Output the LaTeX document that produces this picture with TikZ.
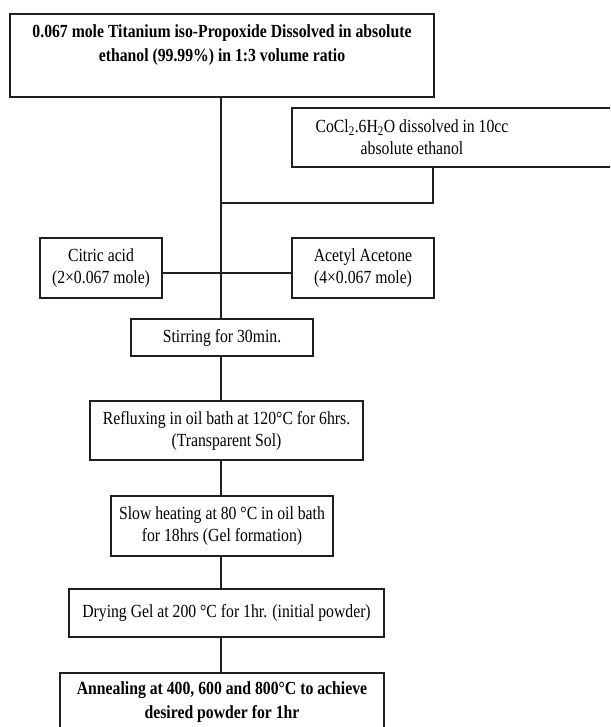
\documentclass[tikz,border=0pt]{standalone}
\usepackage{fontspec}
\setmainfont{Liberation Serif}[FakeStretch=0.85]
\begin{document}
\begin{tikzpicture}[x=1pt,y=-1pt,
  box/.style={draw=black!88, line width=1.5pt, rectangle, inner sep=0pt, align=center,
    font={\fontsize{18.5}{22}\selectfont}},
  conn/.style={draw=black!88, line width=1.5pt}]
\clip (0,0) rectangle (610,727);
\fill[white] (0,0) rectangle (610,727);
% nodes
\node[box, minimum width=424pt, minimum height=83pt, font={\fontsize{18.5}{24}\selectfont\bfseries}] (top) at (222,55.5)
  {0.067 mole Titanium iso-Propoxide Dissolved in absolute\\ethanol (99.99\%) in 1:3 volume ratio\\ \mbox{}};
\node[box, minimum width=323pt, minimum height=59pt] (co) at (453.5,137.5)
  {\parbox{240pt}{\centering CoCl\textsubscript{2}.6H\textsubscript{2}O dissolved in 10cc\\absolute ethanol}\hspace*{83pt}};
\node[box, minimum width=122pt, minimum height=60pt] (cit) at (101,268)
  {Citric acid\\(2×0.067 mole)};
\node[box, minimum width=142pt, minimum height=60pt] (ace) at (363,268)
  {Acetyl Acetone\\(4×0.067 mole)};
\node[box, minimum width=182pt, minimum height=37pt] (stir) at (222,337.5)
  {Stirring for 30min.};
\node[box, minimum width=273pt, minimum height=59pt] (reflux) at (226.5,430.5)
  {Refluxing in oil bath at 120°C for 6hrs.\\(Transparent Sol)};
\node[box, minimum width=222pt, minimum height=60pt] (slow) at (222,526)
  {Slow heating at 80 °C in oil bath\\for 18hrs (Gel formation)};
\node[box, minimum width=315pt, minimum height=48pt] (dry) at (226.5,613)
  {Drying Gel at 200 °C for 1hr. (initial powder)};
\node[box, minimum width=324pt, minimum height=58pt, font={\fontsize{18.5}{24}\selectfont\bfseries}] (ann) at (222,702)
  {Annealing at 400, 600 and 800°C to achieve\\desired powder for 1hr};
% junctions
\coordinate (j1) at (221,203);
\coordinate (j2) at (221,273);
\coordinate (cod) at (433,167);
% connectors
\draw[conn] (top.south -| j1) -- (stir.north -| j1);
\draw[conn] (cod) |- (j1);
\draw[conn] (cit.east |- j2) -- (ace.west |- j2);
\draw[conn] (stir.south -| j1) -- (reflux.north -| j1);
\draw[conn] (reflux.south -| j1) -- (slow.north -| j1);
\draw[conn] (slow.south -| j1) -- (dry.north -| j1);
\draw[conn] (dry.south -| j1) -- (ann.north -| j1);
\end{tikzpicture}
\end{document}
